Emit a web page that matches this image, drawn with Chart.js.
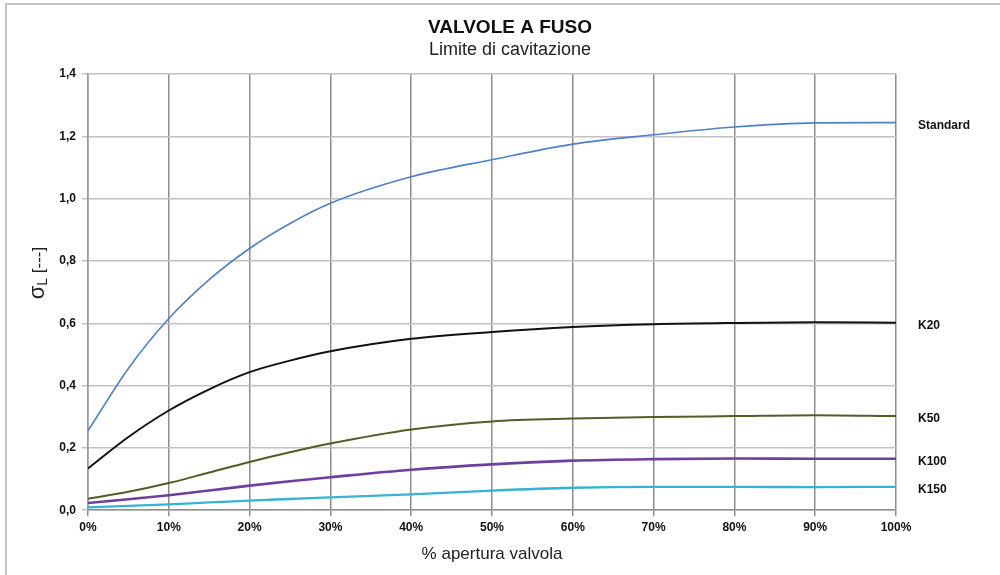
<!DOCTYPE html>
<html>
<head>
<meta charset="utf-8">
<script src="https://cdn.jsdelivr.net/npm/chart.js@4/dist/chart.umd.min.js"></script>
<style>
  html, body { margin: 0; padding: 0; background: #fff; }
</style>
</head>
<body>
<canvas id="valveChart" width="1000" height="575"></canvas>
<script>
// Data (sigma L vs % valve opening)
const openings = [0, 5, 10, 15, 20, 25, 30, 40, 50, 60, 70, 80, 90, 100];
const seriesNames = ["Standard", "K20", "K50", "K100", "K150"];
const standardValues = [0.255, 0.455, 0.615, 0.74, 0.84, 0.92, 0.985, 1.07, 1.125, 1.175, 1.205, 1.23, 1.243, 1.244];
const k20Values = [0.134, 0.235, 0.32, 0.388, 0.443, 0.48, 0.51, 0.55, 0.572, 0.588, 0.597, 0.601, 0.603, 0.602];
const k50Values = [0.037, 0.059, 0.087, 0.121, 0.155, 0.186, 0.214, 0.259, 0.285, 0.294, 0.299, 0.302, 0.305, 0.302];
const k100Values = [0.023, 0.035, 0.048, 0.063, 0.079, 0.093, 0.106, 0.13, 0.147, 0.159, 0.164, 0.166, 0.165, 0.165];
const k150Values = [0.009, 0.014, 0.019, 0.025, 0.031, 0.036, 0.041, 0.051, 0.063, 0.072, 0.075, 0.075, 0.074, 0.075];
const xMin = 0, xMax = 100, xStep = 10;
const yMin = 0, yMax = 1.4, yStep = 0.2;

const lineColors = ["#4f81c6", "#111111", "#515e27", "#6e3f9f", "#38b2d3"];
const lineWidths = [1.6, 2, 2, 2.6, 2.3];

Chart.defaults.font.family = "'Liberation Sans', Arial, sans-serif";
Chart.defaults.color = "#111";

const allValues = [standardValues, k20Values, k50Values, k100Values, k150Values];
const datasets = allValues.map(function (vals, i) {
    return {
        label: seriesNames[i],
        data: vals.map(function (v, j) { return { x: openings[j], y: v }; }),
        borderColor: lineColors[i],
        backgroundColor: lineColors[i],
        borderWidth: lineWidths[i],
        pointRadius: 0,
        cubicInterpolationMode: "monotone",
        fill: false
    };
});

// white page plus the grey frame edges on the left and top
const frame = {
    id: "frame",
    beforeDraw: function (chart) {
        const c = chart.ctx;
        c.save();
        c.fillStyle = "#fff";
        c.fillRect(0, 0, chart.width, chart.height);
        c.strokeStyle = "#c4c4c4";
        c.lineWidth = 2;
        c.beginPath();
        c.moveTo(6, 575);
        c.lineTo(6, 4);
        c.lineTo(1000, 4);
        c.stroke();
        c.restore();
    }
};

// series names written next to the end of each curve
const endLabels = {
    id: "endLabels",
    afterDatasetsDraw: function (chart) {
        const c = chart.ctx;
        c.save();
        c.font = "bold 12px 'Liberation Sans', Arial, sans-serif";
        c.fillStyle = "#111";
        c.textBaseline = "middle";
        c.textAlign = "left";
        chart.data.datasets.forEach(function (ds, i) {
            const meta = chart.getDatasetMeta(i);
            const last = meta.data[meta.data.length - 1];
            c.fillText(ds.label, chart.chartArea.right + 22, last.y + 3);
        });
        c.restore();
    }
};

// sigma-L axis title, rotated, with the L lowered like a subscript
const sigmaTitle = {
    id: "sigmaTitle",
    afterDraw: function (chart) {
        const c = chart.ctx;
        const fBig = "22px 'Liberation Sans', Arial, sans-serif";
        const fSub = "14px 'Liberation Sans', Arial, sans-serif";
        const fRest = "17px 'Liberation Sans', Arial, sans-serif";
        c.save();
        c.font = fBig; const w1 = c.measureText("\u03c3").width;
        c.font = fSub; const w2 = c.measureText("L").width;
        c.font = fRest; const w3 = c.measureText(" [---]").width;
        const total = w1 + w2 + w3;
        c.translate(44, 273);
        c.rotate(-Math.PI / 2);
        c.fillStyle = "#222";
        c.textBaseline = "alphabetic";
        let x = -total / 2;
        c.font = fBig; c.fillText("\u03c3", x, 0); x += w1;
        c.font = fSub; c.fillText("L", x, 3); x += w2;
        c.font = fRest; c.fillText(" [---]", x, 0);
        c.restore();
    }
};

const ctx = document.getElementById("valveChart").getContext("2d");
const valveChart = new Chart(ctx, {
    type: "line",
    data: { datasets: datasets },
    options: {
        responsive: false,
        devicePixelRatio: 1,
        animation: false,
        layout: { padding: { top: 16, left: 20, right: 0, bottom: 6 } },
        plugins: {
            legend: { display: false },
            tooltip: { enabled: false },
            title: {
                display: true,
                text: "VALVOLE A FUSO",
                color: "#111",
                font: { size: 19, weight: "bold" },
                padding: { top: 0, bottom: 0 }
            },
            subtitle: {
                display: true,
                text: "Limite di cavitazione",
                color: "#222",
                font: { size: 18 },
                padding: { top: 0, bottom: 13.6 }
            }
        },
        scales: {
            x: {
                type: "linear",
                min: xMin,
                max: xMax,
                grid: { color: "#8e8e8e", lineWidth: 1.5, tickLength: 6 },
                border: { color: "#8e8e8e", width: 1.5 },
                ticks: {
                    stepSize: xStep,
                    padding: 4,
                    maxRotation: 0,
                    autoSkip: false,
                    font: { size: 12, weight: "bold" },
                    color: "#111",
                    callback: function (v) { return v + "%"; }
                },
                title: {
                    display: true,
                    text: "% apertura valvola",
                    color: "#222",
                    font: { size: 17 },
                    padding: { top: 6, bottom: 4 }
                }
            },
            y: {
                min: yMin,
                max: yMax,
                grid: { color: "#c2c2c2", lineWidth: 1.5, tickLength: 6 },
                border: { color: "#9a9a9a", width: 1.5 },
                ticks: {
                    stepSize: yStep,
                    padding: 6,
                    font: { size: 12, weight: "bold" },
                    color: "#111",
                    callback: function (v) { return Number(v).toFixed(1).replace(".", ","); }
                },
                afterFit: function (scale) { scale.width = 68; }
            },
            yRight: {
                position: "right",
                display: true,
                grid: { display: false },
                border: { display: false },
                ticks: { display: false },
                afterFit: function (scale) { scale.width = 104; }
            }
        }
    },
    plugins: [frame, endLabels, sigmaTitle]
});
</script>
</body>
</html>
